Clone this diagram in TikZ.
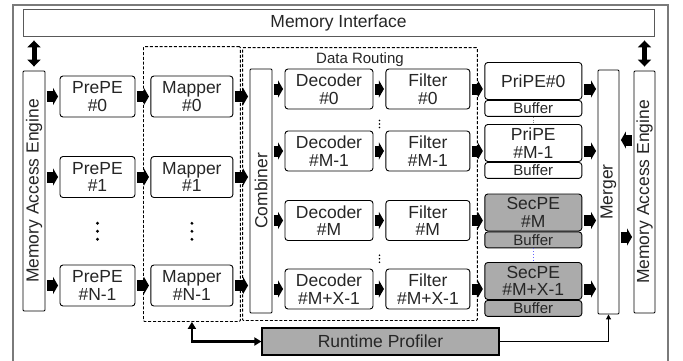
\documentclass[tikz,border=0pt]{standalone}
\usepackage{fontspec}
\setmainfont{Liberation Sans}
\usepackage{graphicx}
\usetikzlibrary{arrows.meta, positioning, calc, fit}
\definecolor{peGray}{HTML}{ABABAB}
\definecolor{frameGray}{HTML}{7A7A7A}
\newcommand{\boxfont}{\fontsize{17.5}{17.5}\selectfont}
\newcommand{\bufferfont}{\fontsize{15}{15}\selectfont}

\begin{document}
\begin{tikzpicture}[x=1pt, y=-1pt,
                    node distance=15pt,
                    unit_box/.style={rectangle, draw, line width=0.9pt, rounded corners=3pt, align=center, inner sep=0pt, minimum height=41pt, font=\boxfont, text=black!85},
                    prepe_box/.style={unit_box, minimum width=75pt},
                    mapper_box/.style={unit_box, minimum width=82pt},
                    decoder_box/.style={unit_box, minimum width=88pt, minimum height=40pt},
                    filter_box/.style={unit_box, minimum width=84pt, minimum height=40pt},
                    pe_box/.style={unit_box, minimum width=97pt, minimum height=37pt},
                    buffer_box/.style={unit_box, minimum width=97pt, minimum height=16pt, font=\bufferfont},
                    tall_box/.style={rectangle, draw, line width=0.9pt, rounded corners=1pt, inner sep=0pt, font=\boxfont, text=black!85},
                    wide_box/.style={rectangle, draw, line width=0.9pt, inner sep=0pt, font=\boxfont, text=black!85},
                    dashed_box/.style={rectangle, draw, line width=0.9pt, dash pattern=on 3pt off 1.8pt, rounded corners=1pt, inner xsep=7pt},
                    fat_arrow/.style={line width=11pt, -{Triangle[length=5pt, width=17pt]}, shorten <=1.5pt, shorten >=1.5pt},
                    double_arrow/.style={line width=5pt, {Triangle[length=7pt, width=13pt]}-{Triangle[length=7pt, width=13pt]}, shorten <=4pt, shorten >=4pt},
                    ]
    \useasboundingbox (0,0) rectangle (683,360);

    % Outer frame and memory interface
    \draw[frameGray, line width=1.4pt] (13,362) |- (668,5) -- (668,362);
    \node[wide_box, draw=black!65, minimum width=631pt, minimum height=27pt] (meminterface) at (338.5,22.5) {Memory Interface};

    % Memory access engines
    \node[tall_box, minimum width=22pt, minimum height=240pt] (maeL) at (34,191) {\rotatebox{90}{Memory Access Engine}};
    \node[tall_box, minimum width=21pt, minimum height=242pt] (maeR) at (644.5,192) {\rotatebox{90}{Memory Access Engine}};

    % PrePEs and mappers
    \node[prepe_box] (prepe0) at (97.5,96.5) {PrePE\\\#0};
    \node[prepe_box] (prepe1) at (97.5,177) {PrePE\\\#1};
    \node[prepe_box] (prepeN) at (97.5,285.5) {PrePE\\\#N-1};
    \node[mapper_box, right=of prepe0] (mapper0) {Mapper\\\#0};
    \node[mapper_box, right=of prepe1] (mapper1) {Mapper\\\#1};
    \node[mapper_box, right=of prepeN] (mapperN) {Mapper\\\#N-1};
    \coordinate (prepe_dots) at ($(prepe1)!0.5!(prepeN)$);
    \coordinate (mapper_dots) at ($(mapper1)!0.5!(mapperN)$);
    \fill ([yshift=8pt]prepe_dots) circle (1.6pt) (prepe_dots) circle (1.6pt) ([yshift=-8pt]prepe_dots) circle (1.6pt);
    \fill ([yshift=8pt]mapper_dots) circle (1.6pt) (mapper_dots) circle (1.6pt) ([yshift=-8pt]mapper_dots) circle (1.6pt);

    % Data routing
    \node[tall_box, minimum width=22pt, minimum height=244pt] (combiner) at (261,191) {\rotatebox{90}{Combiner}};
    \node[decoder_box] (decoder0) at (329,89) {Decoder\\\#0};
    \node[decoder_box] (decoder1) at (329,151) {Decoder\\\#M-1};
    \node[decoder_box] (decoder2) at (329,220.5) {Decoder\\\#M};
    \node[decoder_box] (decoder3) at (329,289) {Decoder\\\#M+X-1};
    \node[filter_box, right=12pt of decoder0] (filter0) {Filter\\\#0};
    \node[filter_box, right=12pt of decoder1] (filter1) {Filter\\\#M-1};
    \node[filter_box, right=12pt of decoder2] (filter2) {Filter\\\#M};
    \node[filter_box, right=12pt of decoder3] (filter3) {Filter\\\#M+X-1};
    \coordinate (route_dots1) at ($(decoder0.east)!0.5!(filter1.west)+(0,4)$);
    \coordinate (route_dots2) at ($(decoder2.east)!0.5!(filter3.west)+(0,4)$);
    \fill ([yshift=3.5pt]route_dots1) circle (0.9pt) (route_dots1) circle (0.9pt) ([yshift=-3.5pt]route_dots1) circle (0.9pt);
    \fill ([yshift=3.5pt]route_dots2) circle (0.9pt) (route_dots2) circle (0.9pt) ([yshift=-3.5pt]route_dots2) circle (0.9pt);

    % PEs with buffers
    \node[pe_box, right=14pt of filter0, yshift=8pt] (pripe0) {PriPE\#0};
    \node[buffer_box, below=0pt of pripe0] (buffer0) {Buffer};
    \node[pe_box, right=14pt of filter1, yshift=8pt] (pripe1) {PriPE\\\#M-1};
    \node[buffer_box, below=0pt of pripe1] (buffer1) {Buffer};
    \node[pe_box, fill=peGray, right=14pt of filter2, yshift=8pt] (secpe0) {SecPE\\\#M};
    \node[buffer_box, fill=peGray, below=0pt of secpe0] (buffer2) {Buffer};
    \node[pe_box, fill=peGray, right=14pt of filter3, yshift=8pt] (secpe1) {SecPE\\\#M+X-1};
    \node[buffer_box, fill=peGray, below=0pt of secpe1] (buffer3) {Buffer};
    \draw[dotted, line width=0.8pt, gray] (buffer0) -- (pripe1);
    \draw[dotted, line width=0.8pt, blue!60] (buffer2) -- (secpe1);

    \node[tall_box, minimum width=21pt, minimum height=244pt] (merger) at (608.5,192) {\rotatebox{90}{Merger}};

    % Runtime profiler
    \node[wide_box, fill=peGray, line width=1.2pt, minimum width=237pt, minimum height=27pt] (profiler) at (380.5,341.5) {Runtime Profiler};

    % Dashed groups
    \node[dashed_box, fit=(mapper0) (mapperN), inner ysep=22pt, yshift=7pt] (mapper_group) {};
    \node[dashed_box, fit=(combiner) (filter0) (filter3), inner ysep=14pt, yshift=7pt] (routing_group) {};
    \node[font=\bufferfont, text=black!85] (routing_label) at ($(routing_group.north)+(0,13)$) {Data Routing};

    % Memory interface to engines
    \draw[double_arrow] (maeL.north) -- (maeL.north |- meminterface.south);
    \draw[double_arrow] (maeR.north) -- (maeR.north |- meminterface.south);

    % Engine to PrePEs to mappers to combiner
    \draw[fat_arrow] (maeL.east |- prepe0) -- (prepe0.west);
    \draw[fat_arrow] (maeL.east |- prepe1) -- (prepe1.west);
    \draw[fat_arrow] (maeL.east |- prepeN) -- (prepeN.west);
    \draw[fat_arrow] (prepe0) -- (mapper0);
    \draw[fat_arrow] (prepe1) -- (mapper1);
    \draw[fat_arrow] (prepeN) -- (mapperN);
    \draw[fat_arrow] (mapper0.east) -- (mapper0 -| combiner.west);
    \draw[fat_arrow] (mapper1.east) -- (mapper1 -| combiner.west);
    \draw[fat_arrow] (mapperN.east) -- (mapperN -| combiner.west);

    % Combiner to decoders to filters to PEs
    \draw[fat_arrow] (combiner.east |- decoder0) -- (decoder0.west);
    \draw[fat_arrow] (combiner.east |- decoder1) -- (decoder1.west);
    \draw[fat_arrow] (combiner.east |- decoder2) -- (decoder2.west);
    \draw[fat_arrow] (combiner.east |- decoder3) -- (decoder3.west);
    \draw[fat_arrow] (decoder0) -- (filter0);
    \draw[fat_arrow] (decoder1) -- (filter1);
    \draw[fat_arrow] (decoder2) -- (filter2);
    \draw[fat_arrow] (decoder3) -- (filter3);
    \draw[fat_arrow] (filter0.east) -- (filter0 -| pripe0.west);
    \draw[fat_arrow] (filter1.east) -- (filter1 -| pripe1.west);
    \draw[fat_arrow] (filter2.east) -- (filter2 -| secpe0.west);
    \draw[fat_arrow] (filter3.east) -- (filter3 -| secpe1.west);

    % PEs to merger, merger and engine
    \draw[fat_arrow] (filter0 -| pripe0.east) -- (filter0 -| merger.west);
    \draw[fat_arrow] (filter1 -| pripe1.east) -- (filter1 -| merger.west);
    \draw[fat_arrow] (filter2 -| secpe0.east) -- (filter2 -| merger.west);
    \draw[fat_arrow] (filter3 -| secpe1.east) -- (filter3 -| merger.west);
    \draw[fat_arrow] ([yshift=52pt]maeR.west) -- ([yshift=52pt]merger.east);
    \draw[fat_arrow] ([yshift=-45pt]merger.east) -- ([yshift=-45pt]maeR.west);

    % Profiler links
    \draw[line width=2.2pt, {Triangle[length=7pt, width=8pt]}-{Triangle[length=7pt, width=8pt]}] (mapper_group.south) |- (profiler.west);
    \draw[line width=1pt, -{Triangle[length=5pt, width=5pt]}] (profiler.east) -| (merger.south);

\end{tikzpicture}
\end{document}
